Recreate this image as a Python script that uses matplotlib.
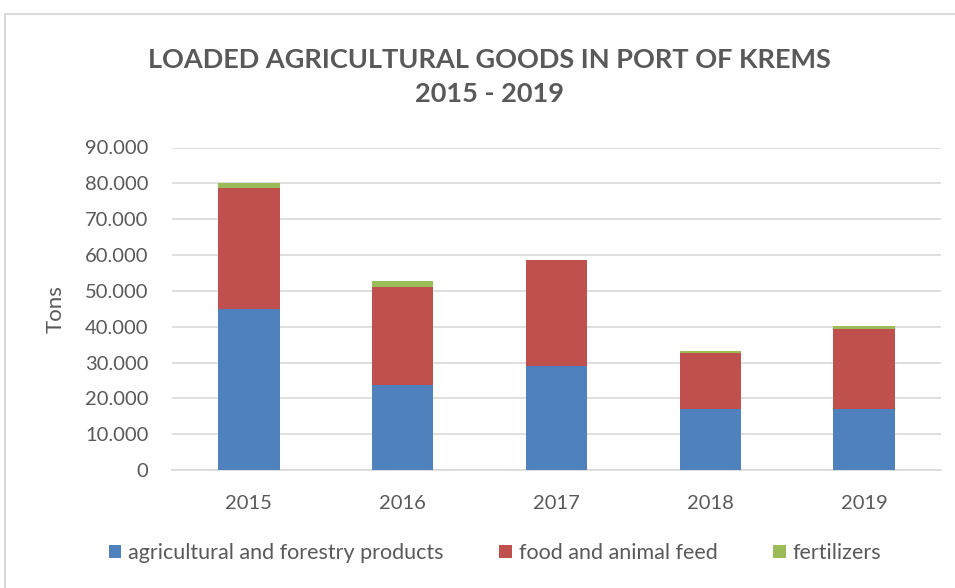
import matplotlib.pyplot as plt
import numpy as np
from matplotlib.patches import Rectangle
from matplotlib.ticker import FuncFormatter

plt.rcParams['font.family'] = ['Lato', 'DejaVu Sans']

years = ['2015', '2016', '2017', '2018', '2019']
agri_forestry = [44900, 23700, 29100, 16900, 17000]
food_feed = [33700, 27300, 29400, 15650, 22250]
fertilizers = [1400, 1800, 150, 550, 1000]
series_names = ['agricultural and forestry products', 'food and animal feed', 'fertilizers']
colors = ['#4F81BD', '#C0504D', '#9BBB59']

W, H = 955, 588
fig = plt.figure(figsize=(W / 100, H / 100), dpi=100)

# outer chart frame
fig.patches.append(Rectangle((5 / W, -0.1), 1.2, (H - 14) / H + 0.1,
                             transform=fig.transFigure, fill=False,
                             edgecolor='#D9D9D9', linewidth=1.5))

left, right, top, bottom = 172, 941, 147.5, 470
ax = fig.add_axes([left / W, 1 - bottom / H, (right - left) / W, (bottom - top) / H])

x = np.arange(len(years))
bw = 0.4
b1 = np.array(agri_forestry)
b2 = np.array(food_feed)
b3 = np.array(fertilizers)
ax.bar(x, b1, bw, color=colors[0], label=series_names[0], zorder=3)
ax.bar(x, b2, bw, bottom=b1, color=colors[1], label=series_names[1], zorder=3)
ax.bar(x, b3, bw, bottom=b1 + b2, color=colors[2], label=series_names[2], zorder=3)

ax.set_xlim(-0.5, len(years) - 0.5)
ax.set_ylim(0, 90000)
ax.set_yticks(np.arange(0, 90001, 10000))
ax.yaxis.set_major_formatter(FuncFormatter(lambda v, p: f'{int(v):,}'.replace(',', '.')))
ax.set_xticks(x)
ax.set_xticklabels(years)
ax.grid(axis='y', color='#D9D9D9', linewidth=1.2, zorder=0)
for s in ['top', 'right', 'left']:
    ax.spines[s].set_visible(False)
ax.spines['bottom'].set_color('#D9D9D9')
ax.spines['bottom'].set_linewidth(1.2)
ax.tick_params(axis='both', length=0, labelsize=14.5, colors='#595959')
ax.tick_params(axis='y', pad=17)
ax.tick_params(axis='x', pad=18)
ax.set_ylabel('Tons', fontsize=16, color='#595959', labelpad=14)

fig.text(489 / W, 1 - 77 / H, 'LOADED AGRICULTURAL GOODS IN PORT OF KREMS\n2015 - 2019',
         ha='center', va='center', fontsize=19.5, fontweight='bold', color='#595959',
         linespacing=1.5)

fig.legend(loc='center', bbox_to_anchor=(495 / W, 1 - 553 / H), ncol=3, frameon=False,
           fontsize=15.5, labelcolor='#595959', handlelength=0.6, handleheight=0.6,
           handletextpad=0.3, columnspacing=2.6)

fig.savefig('out.png', dpi=100)
